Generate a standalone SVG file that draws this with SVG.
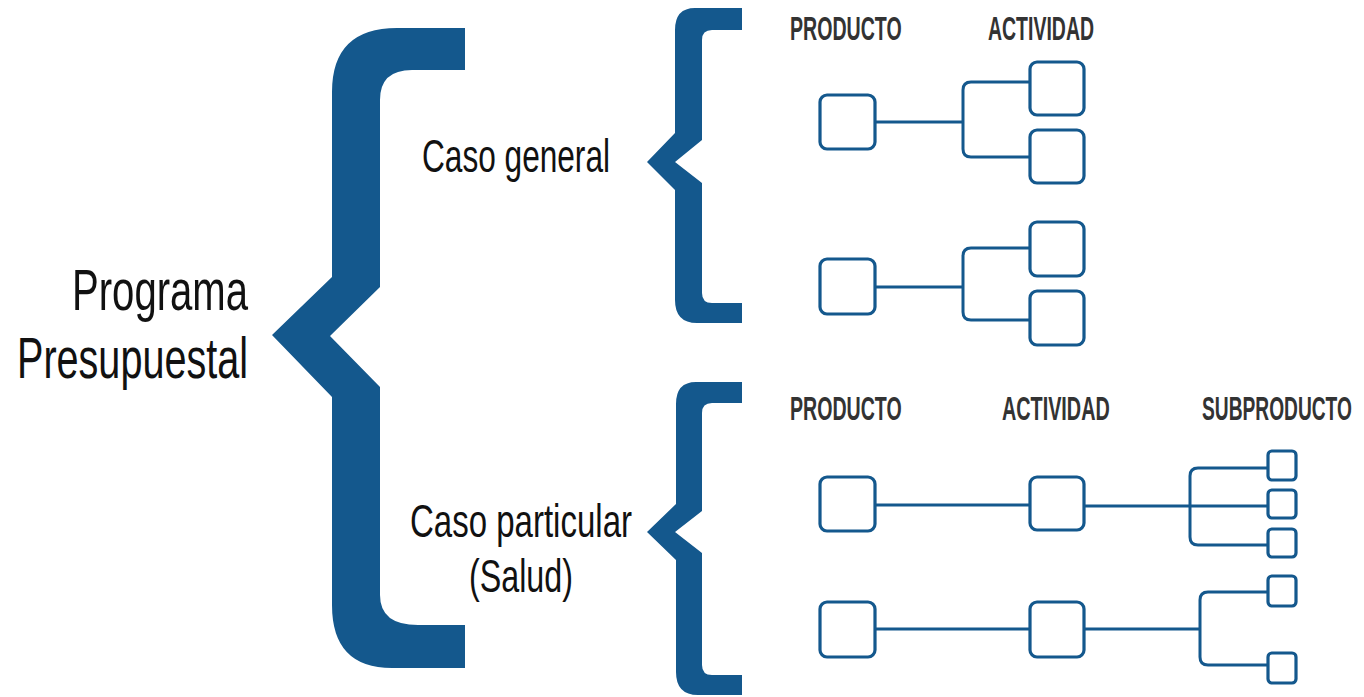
<svg xmlns="http://www.w3.org/2000/svg" width="1364" height="697" viewBox="0 0 1364 697">
<style>
.brace{fill:#14588D;stroke:none}
.box{fill:#fff;stroke:#14588D;stroke-width:3.2}
.ln{fill:none;stroke:#14588D;stroke-width:3}
.big{font-family:"Liberation Sans",Arial,sans-serif;font-size:58px;fill:#111}
.mid{font-family:"Liberation Sans",Arial,sans-serif;font-size:46px;fill:#111}
.lab{font-family:"Liberation Sans",Arial,sans-serif;font-size:34px;font-weight:bold;fill:#333}
</style>
<rect width="1364" height="697" fill="#fff"/>
<g id="braces">
<path id="brace-main" class="brace" d="M465,28 H397 Q332,28 332,92 V277 L272,335 L332,397 V605 Q332,668 392,668 H465 V625 H418 Q380,625 380,595 V387 L330,336 L380,287 V100 Q380,70 412,70 H465 Z"/>
<path id="brace-general" class="brace" d="M742,8 H695 Q675,8 675,30 V133 L647,162 L675,190 V300 Q675,323 697,323 H742 V303 H712 Q702,303 702,293 V183 L675,162 L702,140 V40 Q702,30 712,30 H742 Z"/>
<path id="brace-particular" class="brace" d="M742,382 H696 Q676,382 676,404 V504 L647,532 L676,560 V672 Q676,695 698,695 H742 V675 H712 Q702,675 702,665 V553 L675,532 L702,511 V413 Q702,403 712,403 H742 Z"/>
</g>
<g id="titles">
<text class="big" x="248" y="310" text-anchor="end" textLength="176" lengthAdjust="spacingAndGlyphs">Programa</text>
<text class="big" x="17" y="378" textLength="231" lengthAdjust="spacingAndGlyphs">Presupuestal</text>
<text id="caso-general" class="mid" x="422" y="172" textLength="188" lengthAdjust="spacingAndGlyphs">Caso general</text>
<text id="caso-particular" class="mid" x="410" y="537" textLength="222" lengthAdjust="spacingAndGlyphs">Caso particular</text>
<text class="mid" x="469" y="592" textLength="104" lengthAdjust="spacingAndGlyphs">(Salud)</text>
<text class="lab" transform="translate(790,40) scale(0.57,1)" textLength="196" lengthAdjust="spacingAndGlyphs">PRODUCTO</text>
<text class="lab" transform="translate(988,40) scale(0.57,1)" textLength="186" lengthAdjust="spacingAndGlyphs">ACTIVIDAD</text>
<text class="lab" transform="translate(790,420) scale(0.57,1)" textLength="196" lengthAdjust="spacingAndGlyphs">PRODUCTO</text>
<text class="lab" transform="translate(1002,420) scale(0.57,1)" textLength="189" lengthAdjust="spacingAndGlyphs">ACTIVIDAD</text>
<text class="lab" transform="translate(1202,420) scale(0.57,1)" textLength="263" lengthAdjust="spacingAndGlyphs">SUBPRODUCTO</text>
</g>
<g id="connectors">
<path class="ln" d="M875,122 H963"/>
<path class="ln" d="M1030,82 H971 Q963,82 963,90 V149 Q963,157 971,157 H1030"/>
<path class="ln" d="M875,287 H963"/>
<path class="ln" d="M1030,248 H971 Q963,248 963,256 V312 Q963,320 971,320 H1030"/>
<path class="ln" d="M875,505 H1030"/>
<path class="ln" d="M1084,506 H1268"/>
<path class="ln" d="M1268,468 H1198 Q1190,468 1190,476 V537 Q1190,545 1198,545 H1268"/>
<path class="ln" d="M875,629 H1030"/>
<path class="ln" d="M1084,629 H1200"/>
<path class="ln" d="M1268,592 H1208 Q1200,592 1200,600 V657 Q1200,665 1208,665 H1268"/>
</g>
<g id="node-g1-producto"><rect class="box" x="820" y="95" width="55" height="54" rx="7"/></g>
<g id="node-g1-act1"><rect class="box" x="1030" y="62" width="54" height="53" rx="7"/></g>
<g id="node-g1-act2"><rect class="box" x="1030" y="130" width="54" height="53" rx="7"/></g>
<g id="node-g2-producto"><rect class="box" x="820" y="259" width="55" height="55" rx="7"/></g>
<g id="node-g2-act1"><rect class="box" x="1030" y="222" width="54" height="54" rx="7"/></g>
<g id="node-g2-act2"><rect class="box" x="1030" y="291" width="54" height="54" rx="7"/></g>
<g id="node-p1-producto"><rect class="box" x="820" y="477" width="55" height="54" rx="7"/></g>
<g id="node-p1-actividad"><rect class="box" x="1030" y="477" width="54" height="53" rx="7"/></g>
<g id="node-p1-sub1"><rect class="box" x="1268" y="451" width="28" height="29" rx="4"/></g>
<g id="node-p1-sub2"><rect class="box" x="1268" y="490" width="28" height="28" rx="4"/></g>
<g id="node-p1-sub3"><rect class="box" x="1268" y="529" width="28" height="28" rx="4"/></g>
<g id="node-p2-producto"><rect class="box" x="820" y="602" width="55" height="55" rx="7"/></g>
<g id="node-p2-actividad"><rect class="box" x="1030" y="602" width="54" height="55" rx="7"/></g>
<g id="node-p2-sub1"><rect class="box" x="1268" y="576" width="28" height="30" rx="4"/></g>
<g id="node-p2-sub2"><rect class="box" x="1268" y="653" width="28" height="30" rx="4"/></g>
</svg>
